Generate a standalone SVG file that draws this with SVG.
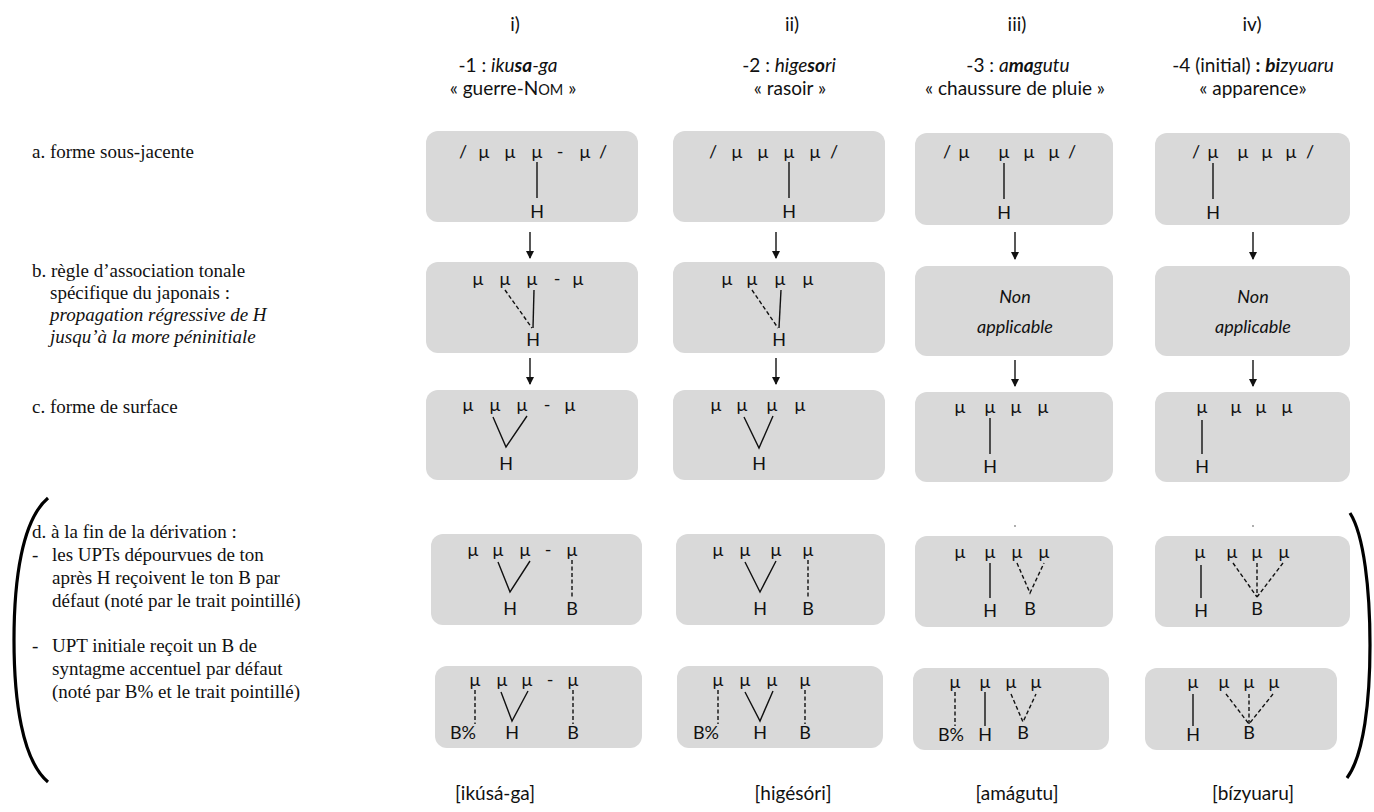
<svg xmlns="http://www.w3.org/2000/svg" width="1374" height="812" viewBox="0 0 1374 812">
<style>
.t{font-family:Lato,"Open Sans","Noto Sans",sans-serif;font-size:18px;fill:#111;text-anchor:middle}
.h2{font-size:19px}
.na{font-size:18px;font-style:italic}
.it{font-style:italic}
.bi{font-style:italic;font-weight:bold}
.lb{font-family:"Liberation Serif","Times New Roman",serif;font-size:19px;fill:#111}
.box{fill:#d9d9d9}
.ln{stroke:#111;stroke-width:1.4;fill:none}
.dl{stroke:#111;stroke-width:1.4;fill:none;stroke-dasharray:4 2.5}
.ar{stroke:#111;stroke-width:1.4;fill:none;marker-end:url(#ah)}
.br{stroke:#000;stroke-width:3.2;fill:none}
</style>
<defs>
<marker id="ah" markerWidth="8" markerHeight="8" refX="7" refY="4" orient="auto" markerUnits="userSpaceOnUse">
<path d="M0,0 L8,4 L0,8 z" fill="#111"/>
</marker>
</defs>
<rect width="1374" height="812" fill="#fff"/>

<g id="headers" class="t">
<text class="h2" x="515" y="31">i)</text>
<text class="h2" x="792" y="31">ii)</text>
<text class="h2" x="1017" y="31">iii)</text>
<text class="h2" x="1252" y="31">iv)</text>
<text class="h2" x="508" y="72">-1 : <tspan class="it">iku</tspan><tspan class="bi">sa</tspan><tspan class="it">-ga</tspan></text>
<text class="h2" x="513" y="95">« guerre-N<tspan font-size="14.5">OM</tspan> »</text>
<text class="h2" x="789" y="72">-2 : <tspan class="it">hige</tspan><tspan class="bi">so</tspan><tspan class="it">ri</tspan></text>
<text class="h2" x="790" y="95">« rasoir »</text>
<text class="h2" x="1018" y="72">-3 : <tspan class="it">a</tspan><tspan class="bi">ma</tspan><tspan class="it">gutu</tspan></text>
<text class="h2" x="1015" y="95">« chaussure de pluie »</text>
<text class="h2" x="1253" y="72">-4 (initial) <tspan font-weight="bold">:</tspan> <tspan class="bi">bi</tspan><tspan class="it">zyuaru</tspan></text>
<text class="h2" x="1253" y="95">« apparence»</text>
</g>

<g id="row-labels" class="lb">
<text x="32" y="158">a. forme sous-jacente</text>
<text x="32" y="277">b. règle d’association tonale</text>
<text x="50" y="299">spécifique du japonais :</text>
<text x="50" y="321" font-style="italic">propagation régressive de H</text>
<text x="50" y="343" font-style="italic">jusqu’à la more péninitiale</text>
<text x="32" y="413">c. forme de surface</text>
<text x="32" y="538">d. à la fin de la dérivation :</text>
<text x="32" y="561">-</text><text x="52" y="561">les UPTs dépourvues de ton</text>
<text x="52" y="584">après H reçoivent le ton B par</text>
<text x="52" y="607">défaut (noté par le trait pointillé)</text>
<text x="32" y="652">-</text><text x="52" y="652">UPT initiale reçoit un B de</text>
<text x="52" y="675">syntagme accentuel par défaut</text>
<text x="52" y="698">(noté par B% et le trait pointillé)</text>
</g>

<g id="brackets">
<path class="br" d="M48,498 C22,520 14,580 14,640 C14,700 22,760 48,782"/>
<path class="br" d="M1350,513 C1364,535 1370,590 1370,645 C1370,700 1364,755 1347,778"/>
</g>

<g id="connectors">
<line class="ar" x1="530" y1="232" x2="530" y2="258"/>
<line class="ar" x1="776" y1="232" x2="776" y2="258"/>
<line class="ar" x1="1015" y1="232" x2="1015" y2="259"/>
<line class="ar" x1="1253" y1="232" x2="1253" y2="259"/>
<line class="ar" x1="530" y1="358" x2="530" y2="384"/>
<line class="ar" x1="776" y1="358" x2="776" y2="384"/>
<line class="ar" x1="1015" y1="360" x2="1015" y2="386"/>
<line class="ar" x1="1253" y1="360" x2="1253" y2="386"/>
</g>

<!-- column i -->
<g id="i-a" class="t">
<rect class="box" x="426" y="131" width="212" height="91" rx="12"/>
<text x="463" y="158">/</text><text x="484" y="158">μ</text><text x="510" y="158">μ</text><text x="537" y="158">μ</text><text x="560" y="158">-</text><text x="585" y="158">μ</text><text x="603" y="158">/</text>
<line class="ln" x1="537" y1="162" x2="537" y2="198"/>
<text x="537" y="218">H</text>
</g>
<g id="i-b" class="t">
<rect class="box" x="426" y="262" width="212" height="91" rx="12"/>
<text x="478" y="285">μ</text><text x="505" y="285">μ</text><text x="532" y="285">μ</text><text x="557" y="285">-</text><text x="578" y="285">μ</text>
<line class="dl" x1="505" y1="290" x2="532" y2="328"/>
<line class="ln" x1="534" y1="290" x2="533" y2="328"/>
<text x="533" y="346">H</text>
</g>
<g id="i-c" class="t">
<rect class="box" x="426" y="390" width="212" height="90" rx="12"/>
<text x="468" y="411">μ</text><text x="495" y="411">μ</text><text x="522" y="411">μ</text><text x="547" y="411">-</text><text x="570" y="411">μ</text>
<polyline class="ln" points="493,417 506,447 527,416"/>
<text x="506" y="470">H</text>
</g>
<g id="i-d1" class="t">
<rect class="box" x="431" y="534" width="211" height="91" rx="12"/>
<text x="473" y="556">μ</text><text x="498" y="556">μ</text><text x="525" y="556">μ</text><text x="548" y="556">-</text><text x="572" y="556">μ</text>
<polyline class="ln" points="498,562 510,592 530,561"/>
<line class="dl" x1="572" y1="560" x2="572" y2="598"/>
<text x="510" y="615">H</text><text x="572" y="615">B</text>
</g>
<g id="i-d2" class="t">
<rect class="box" x="435" y="666" width="207" height="82" rx="12"/>
<text x="475" y="686">μ</text><text x="502" y="686">μ</text><text x="527" y="686">μ</text><text x="550" y="686">-</text><text x="573" y="686">μ</text>
<line class="dl" x1="475" y1="690" x2="475" y2="724"/>
<polyline class="ln" points="501,692 512,721 528,691"/>
<line class="dl" x1="573" y1="690" x2="573" y2="724"/>
<text x="463" y="739">B%</text><text x="512" y="739">H</text><text x="573" y="739">B</text>
</g>

<!-- column ii -->
<g id="ii-a" class="t">
<rect class="box" x="673" y="131" width="212" height="91" rx="12"/>
<text x="713" y="158">/</text><text x="737" y="158">μ</text><text x="763" y="158">μ</text><text x="789" y="158">μ</text><text x="815" y="158">μ</text><text x="834" y="158">/</text>
<line class="ln" x1="789" y1="162" x2="789" y2="198"/>
<text x="789" y="218">H</text>
</g>
<g id="ii-b" class="t">
<rect class="box" x="673" y="262" width="212" height="91" rx="12"/>
<text x="727" y="285">μ</text><text x="752" y="285">μ</text><text x="780" y="285">μ</text><text x="808" y="285">μ</text>
<line class="dl" x1="752" y1="290" x2="778" y2="328"/>
<line class="ln" x1="781" y1="290" x2="779" y2="328"/>
<text x="779" y="346">H</text>
</g>
<g id="ii-c" class="t">
<rect class="box" x="673" y="390" width="212" height="90" rx="12"/>
<text x="716" y="411">μ</text><text x="742" y="411">μ</text><text x="772" y="411">μ</text><text x="800" y="411">μ</text>
<polyline class="ln" points="744,417 759,448 773,416"/>
<text x="759" y="470">H</text>
</g>
<g id="ii-d1" class="t">
<rect class="box" x="676" y="534" width="209" height="91" rx="12"/>
<text x="718" y="556">μ</text><text x="745" y="556">μ</text><text x="776" y="556">μ</text><text x="808" y="556">μ</text>
<polyline class="ln" points="745,562 760,592 776,561"/>
<line class="dl" x1="808" y1="560" x2="808" y2="598"/>
<text x="760" y="615">H</text><text x="808" y="615">B</text>
</g>
<g id="ii-d2" class="t">
<rect class="box" x="677" y="666" width="206" height="82" rx="12"/>
<text x="718" y="686">μ</text><text x="745" y="686">μ</text><text x="772" y="686">μ</text><text x="805" y="686">μ</text>
<line class="dl" x1="718" y1="690" x2="718" y2="724"/>
<polyline class="ln" points="745,692 760,721 773,691"/>
<line class="dl" x1="805" y1="690" x2="805" y2="724"/>
<text x="706" y="739">B%</text><text x="760" y="739">H</text><text x="805" y="739">B</text>
</g>

<!-- column iii -->
<g id="iii-a" class="t">
<rect class="box" x="915" y="133" width="198" height="92" rx="12"/>
<text x="947" y="158">/</text><text x="964" y="158">μ</text><text x="1004" y="158">μ</text><text x="1029" y="158">μ</text><text x="1054" y="158">μ</text><text x="1072" y="158">/</text>
<line class="ln" x1="1004" y1="163" x2="1004" y2="199"/>
<text x="1004" y="219">H</text>
</g>
<g id="iii-b" class="t">
<rect class="box" x="915" y="266" width="198" height="90" rx="12"/>
<text class="na" x="1015" y="303">Non</text>
<text class="na" x="1015" y="333">applicable</text>
</g>
<g id="iii-c" class="t">
<rect class="box" x="915" y="392" width="198" height="90" rx="12"/>
<text x="960" y="413">μ</text><text x="990" y="413">μ</text><text x="1016" y="413">μ</text><text x="1043" y="413">μ</text>
<line class="ln" x1="990" y1="418" x2="990" y2="454"/>
<text x="990" y="473">H</text>
</g>
<g id="iii-d1" class="t">
<circle cx="1015" cy="526" r="0.9" fill="#888"/>
<rect class="box" x="915" y="536" width="198" height="91" rx="12"/>
<text x="960" y="558">μ</text><text x="990" y="558">μ</text><text x="1017" y="558">μ</text><text x="1044" y="558">μ</text>
<line class="ln" x1="990" y1="563" x2="990" y2="598"/>
<polyline class="dl" points="1017,563 1030,593 1044,563"/>
<text x="990" y="617">H</text><text x="1030" y="615">B</text>
</g>
<g id="iii-d2" class="t">
<rect class="box" x="913" y="668" width="196" height="82" rx="12"/>
<text x="955" y="688">μ</text><text x="985" y="688">μ</text><text x="1011" y="688">μ</text><text x="1036" y="688">μ</text>
<line class="dl" x1="955" y1="692" x2="955" y2="726"/>
<line class="ln" x1="985" y1="692" x2="985" y2="726"/>
<polyline class="dl" points="1011,694 1023,722 1036,694"/>
<text x="951" y="741">B%</text><text x="985" y="741">H</text><text x="1023" y="739">B</text>
</g>

<!-- column iv -->
<g id="iv-a" class="t">
<rect class="box" x="1155" y="133" width="195" height="92" rx="12"/>
<text x="1196" y="158">/</text><text x="1213" y="158">μ</text><text x="1243" y="158">μ</text><text x="1267" y="158">μ</text><text x="1291" y="158">μ</text><text x="1310" y="158">/</text>
<line class="ln" x1="1213" y1="163" x2="1213" y2="199"/>
<text x="1213" y="219">H</text>
</g>
<g id="iv-b" class="t">
<rect class="box" x="1155" y="266" width="195" height="90" rx="12"/>
<text class="na" x="1253" y="303">Non</text>
<text class="na" x="1253" y="333">applicable</text>
</g>
<g id="iv-c" class="t">
<rect class="box" x="1155" y="392" width="195" height="90" rx="12"/>
<text x="1202" y="413">μ</text><text x="1236" y="413">μ</text><text x="1261" y="413">μ</text><text x="1287" y="413">μ</text>
<line class="ln" x1="1202" y1="420" x2="1202" y2="454"/>
<text x="1202" y="473">H</text>
</g>
<g id="iv-d1" class="t">
<circle cx="1253" cy="526" r="0.9" fill="#888"/>
<rect class="box" x="1155" y="536" width="195" height="91" rx="12"/>
<text x="1200" y="558">μ</text><text x="1232" y="558">μ</text><text x="1257" y="558">μ</text><text x="1284" y="558">μ</text>
<line class="ln" x1="1201" y1="565" x2="1201" y2="598"/>
<line class="dl" x1="1233" y1="563" x2="1257" y2="597"/>
<line class="dl" x1="1257" y1="563" x2="1257" y2="597"/>
<line class="dl" x1="1283" y1="563" x2="1257" y2="597"/>
<text x="1201" y="617">H</text><text x="1257" y="615">B</text>
</g>
<g id="iv-d2" class="t">
<rect class="box" x="1145" y="668" width="192" height="82" rx="12"/>
<text x="1193" y="688">μ</text><text x="1224" y="688">μ</text><text x="1249" y="688">μ</text><text x="1274" y="688">μ</text>
<line class="ln" x1="1193" y1="694" x2="1193" y2="726"/>
<line class="dl" x1="1226" y1="694" x2="1249" y2="724"/>
<line class="dl" x1="1249" y1="694" x2="1249" y2="724"/>
<line class="dl" x1="1273" y1="694" x2="1249" y2="724"/>
<text x="1193" y="741">H</text><text x="1249" y="739">B</text>
</g>

<g id="results" class="t h2">
<text x="495" y="800">[ikúsá-ga]</text>
<text x="793" y="800">[higésóri]</text>
<text x="1017" y="800">[amágutu]</text>
<text x="1253" y="800">[bízyuaru]</text>
</g>
</svg>
